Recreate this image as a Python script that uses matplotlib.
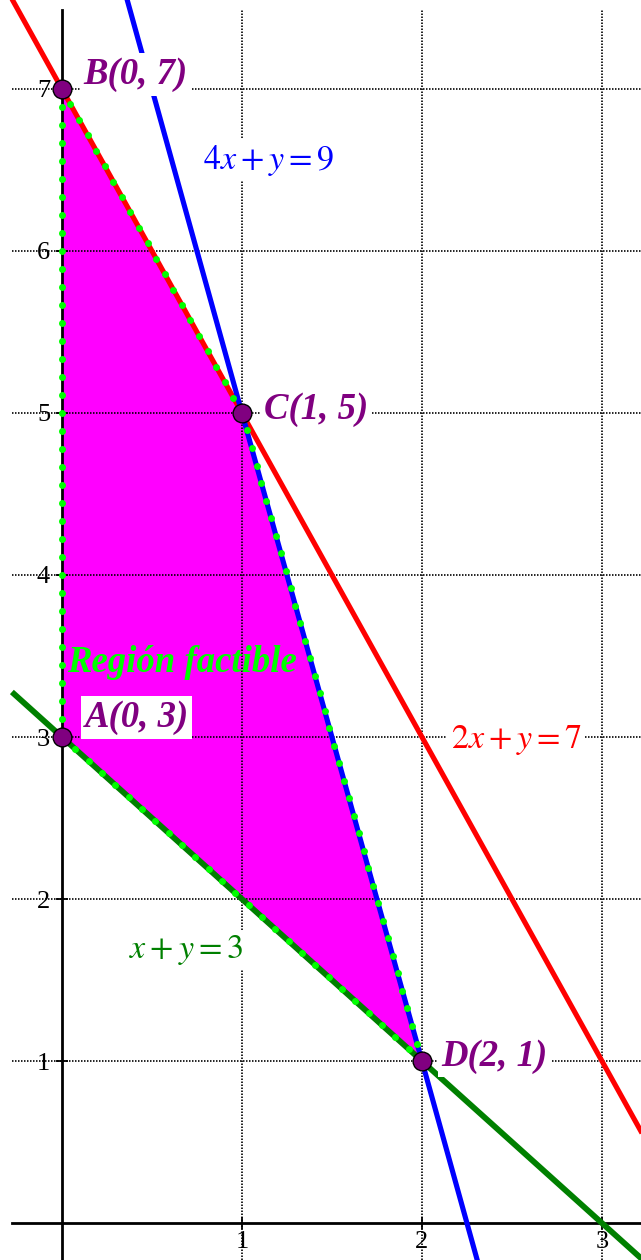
import numpy as np
import matplotlib.pyplot as plt

plt.rcParams['mathtext.fontset'] = 'stix'

# feasible region vertices
vx = [0, 0, 1, 2]
vy = [3, 7, 5, 1]
vnames = ["A(0, 3)", "B(0, 7)", "C(1, 5)", "D(2, 1)"]

# constraint lines a*x + y = c
line_a = [2, 4, 1]
line_c = [7, 9, 3]
line_col = ["#ff0000", "#0000ff", "#008000"]
line_lab = [r"$2x+y=7$", r"$4x+y=9$", r"$x+y=3$"]

xticks = [1, 2, 3]
yticks = [1, 2, 3, 4, 5, 6, 7]


def border_dots(ax, px, py, step=18.0):
    # points spaced ~step pixels along the closed polygon
    pts = ax.transData.transform(np.column_stack([px + px[:1], py + py[:1]]))
    out = []
    for p, q in zip(pts[:-1], pts[1:]):
        n = max(int(round(np.hypot(*(q - p)) / step)), 1)
        t = np.arange(n) / n
        out.append(p + t[:, None] * (q - p))
    out = np.vstack(out)
    return ax.transData.inverted().transform(out)


def main():
    fig = plt.figure(figsize=(6.41, 12.6), dpi=100)
    ax = fig.add_axes([0, 0, 1, 1])
    x0, x1 = -0.344, 3.217
    y0, y1 = -0.228, 7.549
    ax.set_xlim(x0, x1)
    ax.set_ylim(y0, y1)

    # region
    ax.fill(vx, vy, color="#ff00ff", lw=0, zorder=1)

    # grid
    ax.hlines(yticks, -0.278, x1, colors="black", lw=1.2,
              linestyles=(0, (0.9, 0.9)), zorder=2)
    ax.vlines(xticks, y0, 7.49, colors="black", lw=1.2,
              linestyles=(0, (0.9, 0.9)), zorder=2)

    # axes through the origin
    for s in ["top", "right"]:
        ax.spines[s].set_visible(False)
    ax.spines["left"].set_position(("data", 0))
    ax.spines["bottom"].set_position(("data", 0))
    ax.spines["left"].set_bounds(y0, 7.49)
    ax.spines["bottom"].set_bounds(-0.278, x1)
    ax.spines["left"].set_linewidth(2)
    ax.spines["bottom"].set_linewidth(2)
    ax.set_xticks(xticks)
    ax.set_yticks(yticks)
    ax.set_xticklabels([str(t) for t in xticks], fontsize=19, family="Liberation Serif")
    ax.set_yticklabels([str(t) for t in yticks], fontsize=19, family="Liberation Serif")
    ax.tick_params(direction="inout", length=9, width=1.3)
    ax.tick_params(axis="y", pad=4)
    ax.tick_params(axis="x", pad=1)

    # constraint lines
    xs = np.array([-0.278, 3.6])
    lws = [3.7, 3.7, 4.2]
    for a, c, col, lw in zip(line_a, line_c, line_col, lws):
        ax.plot(xs, c - a * xs, color=col, lw=lw, zorder=3, solid_capstyle="butt")

    # dotted border of the region
    d = border_dots(ax, vx, vy)
    ax.plot(d[:, 0], d[:, 1], "o", ms=5, mfc="#00ff00", mec="none", zorder=4)

    # vertices
    ax.plot(vx, vy, "o", ms=13.5, mfc="#800080", mec="black", mew=1, zorder=5)

    box = dict(boxstyle="square,pad=0.1", fc="white", ec="none")
    lab_pos = [(0.125, 3.12), (0.12, 7.09), (1.12, 5.02), (2.11, 1.03)]
    for (lx, ly), name in zip(lab_pos, vnames):
        ax.text(lx, ly, name, color="#800080", fontsize=26.5,
                family="Liberation Serif", weight="bold", style="italic",
                va="center", ha="left", bbox=box, zorder=6)

    eq_pos = [(2.16, 2.98), (0.785, 6.56), (0.37, 1.685)]
    for (lx, ly), txt, col in zip(eq_pos, line_lab, line_col):
        ax.text(lx, ly, txt, color=col, fontsize=24.5, va="center", ha="left",
                bbox=box, zorder=6)

    ax.text(0.03, 3.457, "Región factible", color="#00ff00", fontsize=26.5,
            family="Liberation Serif", weight="bold", style="italic",
            va="center", ha="left", zorder=6)

    fig.savefig("out.png", dpi=100)


main()
